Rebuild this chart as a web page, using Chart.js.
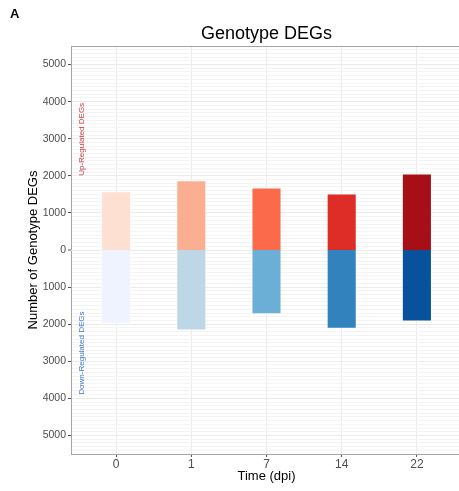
<!DOCTYPE html>
<html>
<head>
<meta charset="utf-8">
<script src="https://cdn.jsdelivr.net/npm/chart.js@4"></script>
<style>
  html, body { margin: 0; padding: 0; background: #ffffff; overflow: hidden; }
  canvas { display: block; }
</style>
</head>
<body>
<canvas id="degChart" width="470" height="491" style="width:470px;height:491px"></canvas>
<script>
// Time points (days post inoculation)
const categories = ['0', '1', '7', '14', '22'];
// Number of up-regulated genotype DEGs at each time point
const upRegulated = [1585, 1880, 1685, 1520, 2060];
// Number of down-regulated genotype DEGs at each time point (drawn below zero)
const downRegulated = [1990, 2170, 1730, 2125, 1930];
// Y tick labels shown every 1000 (absolute counts on both sides of zero)
const yTickValues = [-5000, -4000, -3000, -2000, -1000, 0, 1000, 2000, 3000, 4000, 5000];

const upColors = ['#FEE0D2', '#FCAE91', '#FB6A4A', '#DE2D26', '#A50F15'];
const downColors = ['#EFF3FF', '#BDD7E7', '#6BAED6', '#3182BD', '#08519C'];

const FONT = '"Liberation Sans", Arial, Helvetica, sans-serif';
const MAJOR_GRID = '#EBEBEB';
const MINOR_GRID = '#F4F4F4';

const decorations = {
  id: 'decorations',
  // zero line is drawn here so the stacked bars meet without a gap
  beforeDatasetsDraw(chart) {
    const { ctx, chartArea, scales } = chart;
    const y0 = Math.round(scales.y.getPixelForValue(0)) + 0.5;
    ctx.save();
    ctx.strokeStyle = MAJOR_GRID;
    ctx.lineWidth = 1;
    ctx.beginPath();
    ctx.moveTo(chartArea.left, y0);
    ctx.lineTo(chartArea.right, y0);
    ctx.stroke();
    ctx.restore();
  },
  afterDraw(chart) {
    const { ctx, chartArea, scales } = chart;
    const cx = (chartArea.left + chartArea.right) / 2;
    ctx.save();
    // panel top border
    ctx.strokeStyle = '#A6A6A6';
    ctx.lineWidth = 1;
    ctx.beginPath();
    ctx.moveTo(chartArea.left, chartArea.top + 0.5);
    ctx.lineTo(chartArea.right, chartArea.top + 0.5);
    ctx.stroke();

    // panel letter
    ctx.fillStyle = '#000000';
    ctx.font = 'bold 13px ' + FONT;
    ctx.textAlign = 'left';
    ctx.textBaseline = 'alphabetic';
    ctx.fillText('A', 10, 17.5);

    // title
    ctx.font = '18px ' + FONT;
    ctx.textAlign = 'center';
    ctx.fillText('Genotype DEGs', cx, 38.5);

    // x axis title
    ctx.font = '13px ' + FONT;
    ctx.fillText('Time (dpi)', cx, 479.5);

    // y axis title
    ctx.save();
    ctx.translate(33, (chartArea.top + chartArea.bottom) / 2);
    ctx.rotate(-Math.PI / 2);
    ctx.textBaseline = 'middle';
    ctx.fillText('Number of Genotype DEGs', 0, 0);
    ctx.restore();

    // direction labels inside the panel
    const lx = scales.x.getPixelForValue(0.55);
    ctx.font = '8px ' + FONT;
    ctx.textBaseline = 'middle';
    ctx.save();
    ctx.translate(lx, scales.y.getPixelForValue(2000));
    ctx.rotate(-Math.PI / 2);
    ctx.textAlign = 'left';
    ctx.fillStyle = '#C8393B';
    ctx.fillText('Up-Regulated DEGs', 0, 0);
    ctx.restore();
    ctx.save();
    ctx.translate(lx, scales.y.getPixelForValue(-3900));
    ctx.rotate(-Math.PI / 2);
    ctx.textAlign = 'left';
    ctx.fillStyle = '#3B78C6';
    ctx.fillText('Down-Regulated DEGs', 0, 0);
    ctx.restore();

    ctx.restore();
  }
};

new Chart(document.getElementById('degChart'), {
  type: 'bar',
  data: {
    datasets: [
      {
        label: 'Up-Regulated DEGs',
        data: categories.map((c, i) => ({ x: i + 1, y: upRegulated[i] })),
        backgroundColor: upColors,
        borderColor: 'rgba(255,255,255,0.45)',
        borderWidth: { top: 1, left: 1, right: 1, bottom: 0 },
        borderSkipped: false,
        inflateAmount: 0,
        barPercentage: 0.4,
        categoryPercentage: 1
      },
      {
        label: 'Down-Regulated DEGs',
        data: categories.map((c, i) => ({ x: i + 1, y: -downRegulated[i] })),
        backgroundColor: downColors,
        borderColor: 'rgba(255,255,255,0.45)',
        borderWidth: { top: 0, left: 1, right: 1, bottom: 1 },
        borderSkipped: false,
        inflateAmount: 0,
        barPercentage: 0.4,
        categoryPercentage: 1
      }
    ]
  },
  options: {
    responsive: false,
    devicePixelRatio: 1,
    animation: false,
    layout: { padding: { left: 0, top: 46, right: 8, bottom: 0 } },
    plugins: {
      legend: { display: false },
      tooltip: { enabled: false },
      title: { display: false }
    },
    scales: {
      x: {
        type: 'linear',
        stacked: true,
        offset: false,
        min: 0.4,
        max: 5.6,
        afterBuildTicks(scale) {
          scale.ticks = categories.map((c, i) => ({ value: i + 1 }));
        },
        afterFit(scale) { scale.height = 37; },
        ticks: {
          autoSkip: false,
          maxRotation: 0,
          padding: 0,
          color: '#4D4D4D',
          font: { family: FONT, size: 12 },
          callback: (v) => categories[v - 1]
        },
        grid: {
          offset: false,
          color: MAJOR_GRID,
          lineWidth: 1,
          drawTicks: true,
          tickLength: 3,
          tickColor: '#555555',
          tickWidth: 1
        },
        border: { display: true, color: '#A6A6A6', width: 1 }
      },
      y: {
        stacked: true,
        min: -5500,
        max: 5500,
        afterBuildTicks(scale) {
          const t = [];
          for (let v = -5500; v <= 5500; v += 100) t.push({ value: v });
          scale.ticks = t;
        },
        afterFit(scale) { scale.width = 71; },
        ticks: {
          autoSkip: false,
          padding: 2,
          color: '#4D4D4D',
          font: { family: FONT, size: 10.5 },
          callback: (v) => (yTickValues.includes(v) ? String(Math.abs(v)) : '')
        },
        grid: {
          color: (ctx) => (ctx.tick && yTickValues.includes(ctx.tick.value) ? MAJOR_GRID : MINOR_GRID),
          lineWidth: (ctx) => (ctx.tick && ctx.tick.value === 0 ? 0 : 1),
          drawTicks: true,
          tickLength: 3,
          tickColor: (ctx) => (ctx.tick && yTickValues.includes(ctx.tick.value) ? '#555555' : 'rgba(0,0,0,0)'),
          tickWidth: 1
        },
        border: { display: true, color: '#A6A6A6', width: 1 }
      }
    }
  },
  plugins: [decorations]
});
</script>
</body>
</html>
